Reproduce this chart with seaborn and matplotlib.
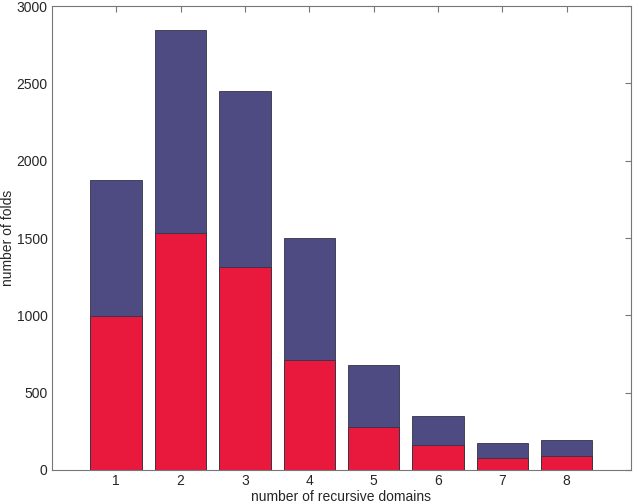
import matplotlib
matplotlib.use("Agg")
import matplotlib.pyplot as plt
import seaborn as sns
import pandas as pd

domains = ["1", "2", "3", "4", "5", "6", "7", "8"]
total_folds = [1873, 2848, 2448, 1500, 678, 352, 173, 192]
red_folds = [997, 1530, 1312, 712, 279, 163, 80, 88]

df = pd.DataFrame({"domains": domains, "total": total_folds, "red": red_folds})

sns.set_style("white")
plt.rcParams["font.family"] = ["Liberation Sans", "DejaVu Sans"]

fig = plt.figure(figsize=(6.4, 5.04), dpi=100)
ax = fig.add_axes([0.081, 0.0675, 0.905, 0.9205])

sns.barplot(data=df, x="domains", y="total", color="#4d4b82", saturation=1,
            width=0.8, edgecolor="#333344", linewidth=0.6, ax=ax)
sns.barplot(data=df, x="domains", y="red", color="#e8193c", saturation=1,
            width=0.8, edgecolor="#333344", linewidth=0.6, ax=ax)

ax.set_xlim(-1, 8)
ax.set_ylim(0, 3000)
ax.set_yticks([0, 500, 1000, 1500, 2000, 2500, 3000])
ax.set_xlabel("number of recursive domains", fontsize=10, labelpad=1)
ax.set_ylabel("number of folds", fontsize=10)
ax.yaxis.set_label_coords(-0.064, 0.5)
ax.tick_params(axis="both", direction="in", length=4, color="#777777",
               labelsize=10, top=True, right=True, width=0.8, pad=3)
for s in ax.spines.values():
    s.set_visible(True)
    s.set_color("#777777")
    s.set_linewidth(0.8)

plt.savefig("out.png", dpi=100)
